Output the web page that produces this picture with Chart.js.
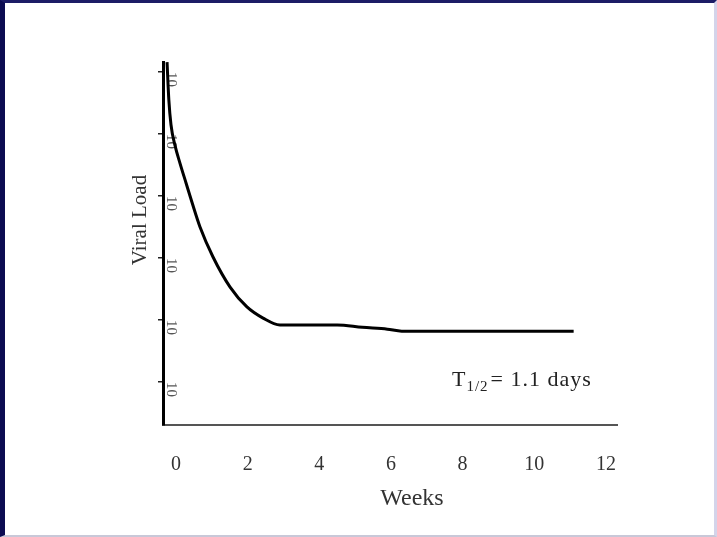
<!DOCTYPE html>
<html>
<head>
<meta charset="utf-8">
<script src="https://cdn.jsdelivr.net/npm/chart.js@4"></script>
<style>
  html, body { margin: 0; padding: 0; background: #fff; }
  #frame {
    width: 709px; height: 532px;
    border-left: 5px solid #0c0c52;
    border-top: 3px solid #1c1c66;
    border-right: 3px solid #d4d4ea;
    border-bottom: 2px solid #c8c8d8;
    background: #fff;
  }
  canvas { display: block; }
</style>
</head>
<body>
<div id="frame"><canvas id="viralChart" width="709" height="532"></canvas></div>
<script>
// Data
const weeks = [-0.25, -0.2, -0.14, -0.03, 0.11, 0.28, 0.45, 0.67, 1.03, 1.51, 1.98, 2.43, 2.9, 4.5, 5.2, 5.9, 6.3, 11.1];
const viralLoad = [1445000, 355000, 141000, 66000, 33900, 16200, 7760, 3160, 1047, 339, 162, 107, 83, 83, 76, 71, 66, 66];
const xTicks = [0, 2, 4, 6, 8, 10, 12];
const yTicks = [10, 100, 1000, 10000, 100000, 1000000];

const serif = '"Liberation Serif", "DejaVu Serif", serif';

// Axis titles and the half-life note
const textPlugin = {
    id: 'labels',
    afterDraw(chart) {
        const ctx = chart.ctx;
        const area = chart.chartArea;
        ctx.save();
        ctx.fillStyle = '#333';

        // x title
        ctx.font = '24px ' + serif;
        ctx.textAlign = 'center';
        ctx.textBaseline = 'middle';
        ctx.fillText('Weeks', area.left + 249, area.bottom + 74);

        // y title
        ctx.save();
        ctx.translate(area.left - 23, area.top + 158);
        ctx.rotate(-Math.PI / 2);
        ctx.font = '21px ' + serif;
        ctx.fillText('Viral Load', 0, 0);
        ctx.restore();

        // T1/2 note
        ctx.textAlign = 'left';
        ctx.textBaseline = 'alphabetic';
        ctx.fillStyle = '#222';
        ctx.letterSpacing = '1px';
        let x = area.left + 289;
        const y = area.top + 324;
        ctx.font = '22px ' + serif;
        ctx.fillText('T', x, y);
        x += ctx.measureText('T').width;
        ctx.font = '15px ' + serif;
        ctx.fillText('1/2', x, y + 5);
        x += ctx.measureText('1/2').width + 2;
        ctx.font = '22px ' + serif;
        ctx.fillText('= 1.1 days', x, y);
        ctx.restore();
    }
};

new Chart(document.getElementById('viralChart').getContext('2d'), {
    type: 'line',
    data: {
        datasets: [{
            data: weeks.map((w, i) => ({ x: w, y: viralLoad[i] })),
            borderColor: '#000',
            borderWidth: 3,
            pointRadius: 0,
            fill: false,
            cubicInterpolationMode: 'monotone',
            clip: false
        }]
    },
    options: {
        responsive: false,
        animation: false,
        layout: { padding: { left: 152, right: 97, top: 59, bottom: 60 } },
        plugins: { legend: { display: false }, tooltip: { enabled: false } },
        scales: {
            x: {
                type: 'linear',
                min: -0.363,
                max: 12.31,
                afterBuildTicks: (scale) => { scale.ticks = xTicks.map(v => ({ value: v })); },
                afterFit: (scale) => { scale.height = 50; },
                grid: { display: false, drawTicks: false },
                border: { color: '#555', width: 2 },
                ticks: {
                    padding: 28,
                    color: '#333',
                    font: { family: serif, size: 20 },
                    maxRotation: 0
                }
            },
            y: {
                type: 'logarithmic',
                min: 2.02,
                max: 1450000,
                afterBuildTicks: (scale) => { scale.ticks = yTicks.map(v => ({ value: v })); },
                afterFit: (scale) => { scale.width = 6; },
                grid: { drawOnChartArea: false, drawTicks: true, tickLength: 5, color: '#222', lineWidth: 1.5 },
                border: { color: '#000', width: 3 },
                ticks: {
                    mirror: true,
                    padding: 8,
                    minRotation: -90,
                    maxRotation: -90,
                    color: '#555',
                    font: { family: serif, size: 15 },
                    callback: () => '10'
                }
            }
        }
    },
    plugins: [textPlugin]
});
</script>
</body>
</html>
